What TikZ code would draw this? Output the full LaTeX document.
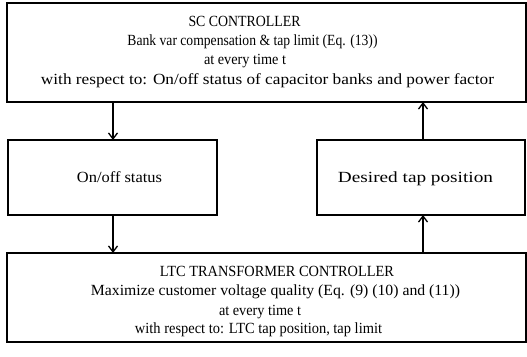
\documentclass[tikz,border=0pt]{standalone}
\usepackage{graphicx}
\usepackage{fontspec}
\setmainfont{Liberation Serif}
\usetikzlibrary{arrows.meta}
\newcommand\fitw[2]{\resizebox{#1pt}{\height}{#2}}
\begin{document}
\begin{tikzpicture}[x=1pt,y=1pt,
  box/.style={draw, line width=1.4pt, inner sep=0pt, outer sep=0pt},
  txt/.style={font=\fontsize{15.5}{17}\selectfont, inner sep=0pt, anchor=base},
  conn/.style={line width=1.3pt, -{Straight Barb[length=6pt,width=9pt,line width=1.3pt]}}]
\useasboundingbox (0,0) rectangle (527,356);
% boxes (image y flipped: y = 356 - yimg)
\node[box, minimum width=519pt, minimum height=99pt] (sc) at (266.5,303.5) {};
\node[box, minimum width=209pt, minimum height=75pt] (onoff) at (112.5,178.5) {};
\node[box, minimum width=208pt, minimum height=75pt] (tap) at (421,178.5) {};
\node[box, minimum width=519pt, minimum height=89pt] (ltc) at (266.5,58.5) {};
% texts top
\node[txt] (t1) at (244.5,329) {\fitw{112}{SC CONTROLLER}};
\node[txt] (t2) at (252.5,310) {\fitw{250}{Bank var compensation \& tap limit (Eq. (13))}};
\node[txt] (t3) at (245,291) {\fitw{82}{at every time t}};
\node[txt] (t4) at (267.5,271) {\fitw{453}{with respect to: On/off status of capacitor banks and power factor}};
% middle
\node[txt] (m1) at (119.5,173) {\fitw{85}{On/off status}};
\node[txt] (m2) at (415.5,173) {\fitw{155}{Desired tap position}};
% bottom
\node[txt] (b1) at (277,79) {\fitw{234}{LTC TRANSFORMER CONTROLLER}};
\node[txt] (b2) at (275.5,60) {\fitw{369}{Maximize customer voltage quality (Eq. (9) (10) and (11))}};
\node[txt] (b3) at (260,41) {\fitw{82}{at every time t}};
\node[txt] (b4) at (258.5,23) {\fitw{247}{with respect to: LTC tap position, tap limit}};
% connectors
\draw[conn] (sc.south -| 113,0) -- (onoff.north -| 113,0);
\draw[conn] (onoff.south -| 113,0) -- (ltc.north -| 113,0);
\draw[conn] (ltc.north -| 423,0) -- (tap.south -| 423,0);
\draw[conn] (tap.north -| 423,0) -- (sc.south -| 423,0);
\end{tikzpicture}
\end{document}
